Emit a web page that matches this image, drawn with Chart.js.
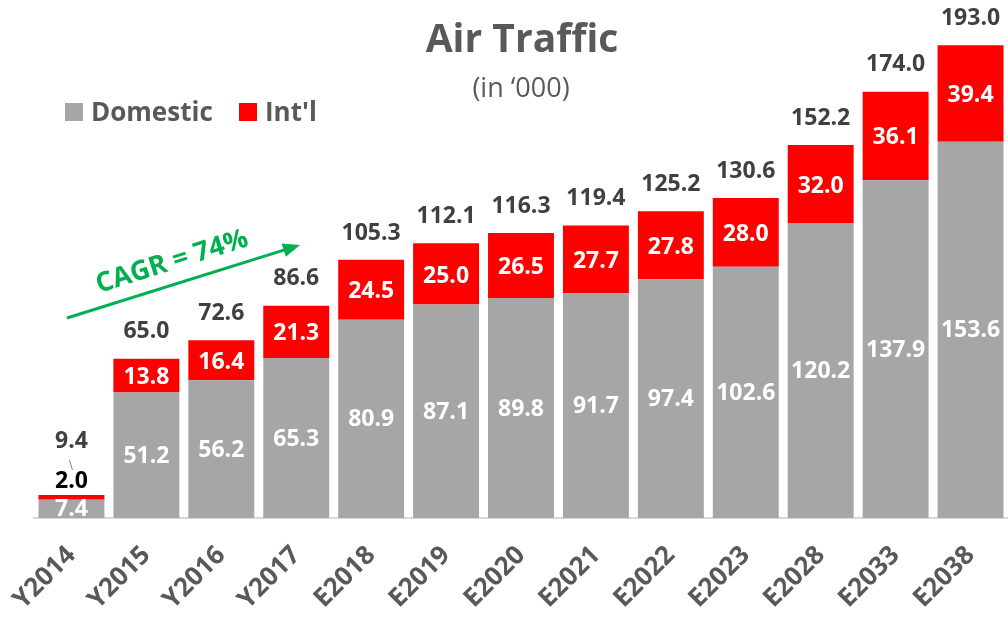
<!DOCTYPE html>
<html>
<head>
<meta charset="utf-8">
<script src="https://cdn.jsdelivr.net/npm/chart.js@4.4.1/dist/chart.umd.min.js"></script>
<style>
html,body{margin:0;padding:0;background:#fff;overflow:hidden;}
#wrap{position:relative;width:1008px;height:622px;}
</style>
</head>
<body>
<div id="wrap"><canvas id="c" width="1008" height="622"></canvas></div>
<script>
const categories = ['Y2014','Y2015','Y2016','Y2017','E2018','E2019','E2020','E2021','E2022','E2023','E2028','E2033','E2038'];
const domestic = [7.4, 51.2, 56.2, 65.3, 80.9, 87.1, 89.8, 91.7, 97.4, 102.6, 120.2, 137.9, 153.6];
const intl = [2.0, 13.8, 16.4, 21.3, 24.5, 25.0, 26.5, 27.7, 27.8, 28.0, 32.0, 36.1, 39.4];
const totals = [9.4, 65.0, 72.6, 86.6, 105.3, 112.1, 116.3, 119.4, 125.2, 130.6, 152.2, 174.0, 193.0];

const FONT = "'Open Sans', Lato, sans-serif";
const GRAY = '#a6a6a6';
const RED = '#ff0000';
const TXT = '#595959';

const labelPlugin = {
  id: 'labels',
  afterDatasetsDraw(chart) {
    const ctx = chart.ctx;
    const m0 = chart.getDatasetMeta(0);
    const m1 = chart.getDatasetMeta(1);
    ctx.save();
    ctx.textAlign = 'center';
    ctx.textBaseline = 'middle';
    ctx.font = "bold 23px " + FONT;
    for (let i = 0; i < categories.length; i++) {
      const b0 = m0.data[i], b1 = m1.data[i];
      ctx.fillStyle = '#ffffff';
      ctx.fillText(domestic[i].toFixed(1), b0.x, (b0.y + b0.base) / 2 + 1);
      const top = chart.scales.y.getPixelForValue(totals[i]);
      if (i === 0) {
        ctx.fillStyle = '#000000';
        ctx.fillText(intl[i].toFixed(1), b1.x, b1.y - 14);
        ctx.strokeStyle = '#7f7f7f';
        ctx.lineWidth = 1;
        ctx.beginPath();
        ctx.moveTo(b1.x - 2, b1.y - 35);
        ctx.lineTo(b1.x + 1, b1.y - 25);
        ctx.stroke();
        ctx.fillStyle = '#404040';
        ctx.fillText(totals[i].toFixed(1), b1.x, b1.y - 54);
      } else {
        ctx.fillStyle = '#ffffff';
        ctx.fillText(intl[i].toFixed(1), b1.x, (b1.y + b1.base) / 2 + 2);
        ctx.fillStyle = '#404040';
        ctx.fillText(totals[i].toFixed(1), b1.x, top - 27);
      }
    }
    ctx.restore();
  },
  afterDraw(chart) {
    const ctx = chart.ctx;
    ctx.save();
    ctx.textAlign = 'center';
    ctx.textBaseline = 'alphabetic';
    ctx.fillStyle = TXT;
    ctx.font = "bold 39px " + FONT;
    ctx.fillText('Air Traffic', 522, 52);
    ctx.font = "27px " + FONT;
    ctx.fillText('(in \u2018000)', 521, 97);
    // legend
    ctx.textAlign = 'left';
    ctx.font = "bold 26px " + FONT;
    ctx.fillStyle = GRAY;
    ctx.fillRect(65, 103, 18, 18);
    ctx.fillStyle = TXT;
    ctx.fillText('Domestic', 91, 121);
    ctx.fillStyle = RED;
    ctx.fillRect(239, 103, 18, 18);
    ctx.fillStyle = TXT;
    ctx.fillText("Int'l", 265, 121);
    // CAGR arrow
    const G = '#00b050';
    ctx.strokeStyle = G;
    ctx.fillStyle = G;
    ctx.lineWidth = 3;
    const x1 = 67, y1 = 318, x2 = 300, y2 = 245;
    const ang = Math.atan2(y2 - y1, x2 - x1);
    ctx.beginPath();
    ctx.moveTo(x1, y1);
    ctx.lineTo(x2 - 12 * Math.cos(ang), y2 - 12 * Math.sin(ang));
    ctx.stroke();
    ctx.beginPath();
    ctx.moveTo(x2, y2);
    ctx.lineTo(x2 - 17 * Math.cos(ang) + 7 * Math.sin(ang), y2 - 17 * Math.sin(ang) - 7 * Math.cos(ang));
    ctx.lineTo(x2 - 17 * Math.cos(ang) - 7 * Math.sin(ang), y2 - 17 * Math.sin(ang) + 7 * Math.cos(ang));
    ctx.closePath();
    ctx.fill();
    ctx.translate(172, 262);
    ctx.rotate(ang);
    ctx.textAlign = 'center';
    ctx.textBaseline = 'middle';
    ctx.font = "bold 27px " + FONT;
    ctx.fillText('CAGR = 74%', 0, 0);
    ctx.restore();
  }
};

new Chart(document.getElementById('c'), {
  type: 'bar',
  data: {
    labels: categories,
    datasets: [
      { label: 'Domestic', data: domestic, backgroundColor: GRAY, borderWidth: 0 },
      { label: "Int'l", data: intl, backgroundColor: RED, borderWidth: 0 }
    ]
  },
  options: {
    responsive: false,
    animation: false,
    layout: { padding: { left: 34, right: 0, top: 28, bottom: 0 } },
    datasets: { bar: { categoryPercentage: 1.0, barPercentage: 0.88 } },
    plugins: { legend: { display: false }, title: { display: false }, tooltip: { enabled: false } },
    scales: {
      x: {
        stacked: true,
        grid: { display: false, drawTicks: false },
        border: { display: true, color: '#d9d9d9', width: 2 },
        ticks: {
          color: TXT,
          font: { family: FONT, size: 26, weight: 'bold' },
          maxRotation: 45, minRotation: 45,
          padding: 22,
          autoSkip: false
        },
        afterFit(scale) { scale.height = 104; scale.paddingLeft = 0; scale.paddingRight = 0; }
      },
      y: {
        stacked: true,
        display: false,
        min: 0, max: 200
      }
    }
  },
  plugins: [labelPlugin]
});
</script>
</body>
</html>
